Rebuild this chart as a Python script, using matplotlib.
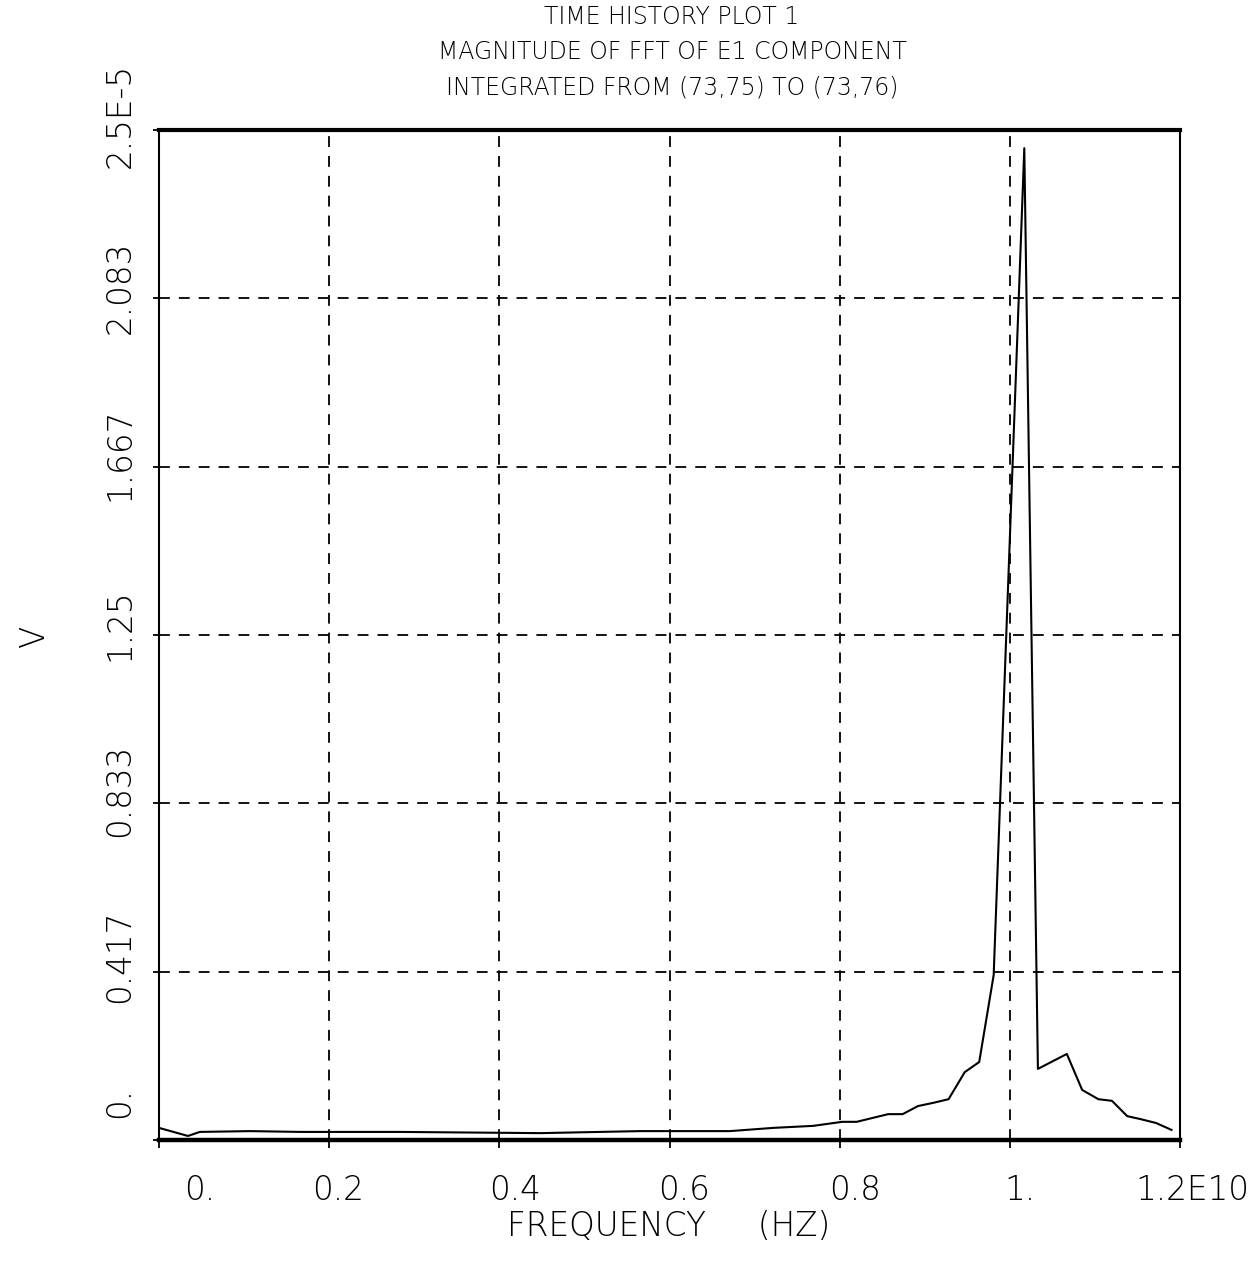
import matplotlib
matplotlib.use("Agg")
import matplotlib.pyplot as plt

# ---- data (frequency in units of 1E10 Hz, magnitude in units of 1E-5 V) ----
freq = [0.000, 0.034, 0.048, 0.107, 0.166, 0.283, 0.448, 0.565, 0.671, 0.722,
        0.769, 0.803, 0.820, 0.857, 0.874, 0.892, 0.910, 0.928, 0.947, 0.964,
        0.981, 1.017, 1.033, 1.067, 1.085, 1.104, 1.120, 1.138, 1.153, 1.172,
        1.190]
mag = [0.030, 0.010, 0.020, 0.022, 0.020, 0.020, 0.017, 0.022, 0.022, 0.030,
       0.035, 0.045, 0.045, 0.064, 0.064, 0.084, 0.092, 0.101, 0.168, 0.193,
       0.408, 2.455, 0.176, 0.213, 0.124, 0.101, 0.097, 0.059, 0.052, 0.042,
       0.025]

xticks = [0.0, 0.2, 0.4, 0.6, 0.8, 1.0, 1.2]
xtick_labels = ["0.", "0.2", "0.4", "0.6", "0.8", "1.", "1.2E10"]
yticks = [0.0, 0.417, 0.833, 1.25, 1.667, 2.083, 2.5]
ytick_labels = ["0.", "0.417", "0.833", "1.25", "1.667", "2.083", "2.5E-5"]

title_lines = ["TIME HISTORY PLOT 1",
               "MAGNITUDE OF FFT OF E1 COMPONENT",
               "INTEGRATED FROM (73,75) TO (73,76)"]
xlabel = "FREQUENCY     (HZ)"
ylabel = "V"

# ---- layout ----
FONT = ["DejaVu Sans"]
plt.rcParams["font.family"] = FONT
W, H = 1259, 1274
fig = plt.figure(figsize=(W / 100, H / 100), dpi=100)
L, R, T, B = 159, 1180, 130, 1140
ax = fig.add_axes([L / W, 1 - B / H, (R - L) / W, (B - T) / H])
ax.set_xlim(0, 1.2)
ax.set_ylim(0, 2.5)

# grid
for xv in xticks[1:-1]:
    ax.axvline(xv, color="black", lw=1.3, dashes=(6, 5), zorder=1)
for yv in yticks[1:-1]:
    ax.axhline(yv, color="black", lw=1.3, dashes=(6, 5), zorder=1)

ax.plot(freq, mag, color="black", lw=1.5, zorder=3)

# spines
for s in ["left", "right"]:
    ax.spines[s].set_linewidth(1.5)
ax.spines["top"].set_linewidth(3.0)
ax.spines["bottom"].set_linewidth(3.2)

ax.set_xticks(xticks)
ax.set_yticks(yticks)
ax.set_xticklabels([])
ax.set_yticklabels([])
ax.tick_params(axis="x", direction="out", length=6, width=1.3)
ax.tick_params(axis="y", direction="out", length=4, width=1.3)

fs = 23.5
xoff_px = [41, 9, 16, 15, 15, 10, 12]
for v, lab, dx in zip(xticks, xtick_labels, xoff_px):
    ax.annotate(lab, xy=(v, 0), xycoords=("data", "axes fraction"),
                xytext=(dx * 0.72, -50 * 0.72), textcoords="offset points",
                ha="center", va="center", fontsize=fs, fontweight="light")
yoff_px = [38, 15, 13, 10, 12, 11, 15]
for v, lab, dy in zip(yticks, ytick_labels, yoff_px):
    ax.annotate(lab, xy=(0, v), xycoords=("axes fraction", "data"),
                xytext=(-39 * 0.72, dy * 0.72), textcoords="offset points",
                ha="center", va="center", rotation=90,
                fontsize=fs, fontweight="light")

fig.text(669 / W, 1 - 1226 / H, xlabel, ha="center", va="center",
         fontsize=fs, fontweight="light")
fig.text(35 / W, 1 - 637 / H, ylabel, ha="center", va="center", rotation=90,
         fontsize=fs, fontweight="light")

for i, line in enumerate(title_lines):
    fig.text(672 / W, 1 - (17 + 35 * i) / H, line, ha="center", va="center",
             fontsize=17, fontweight="light")

fig.savefig("out.png", dpi=100)
